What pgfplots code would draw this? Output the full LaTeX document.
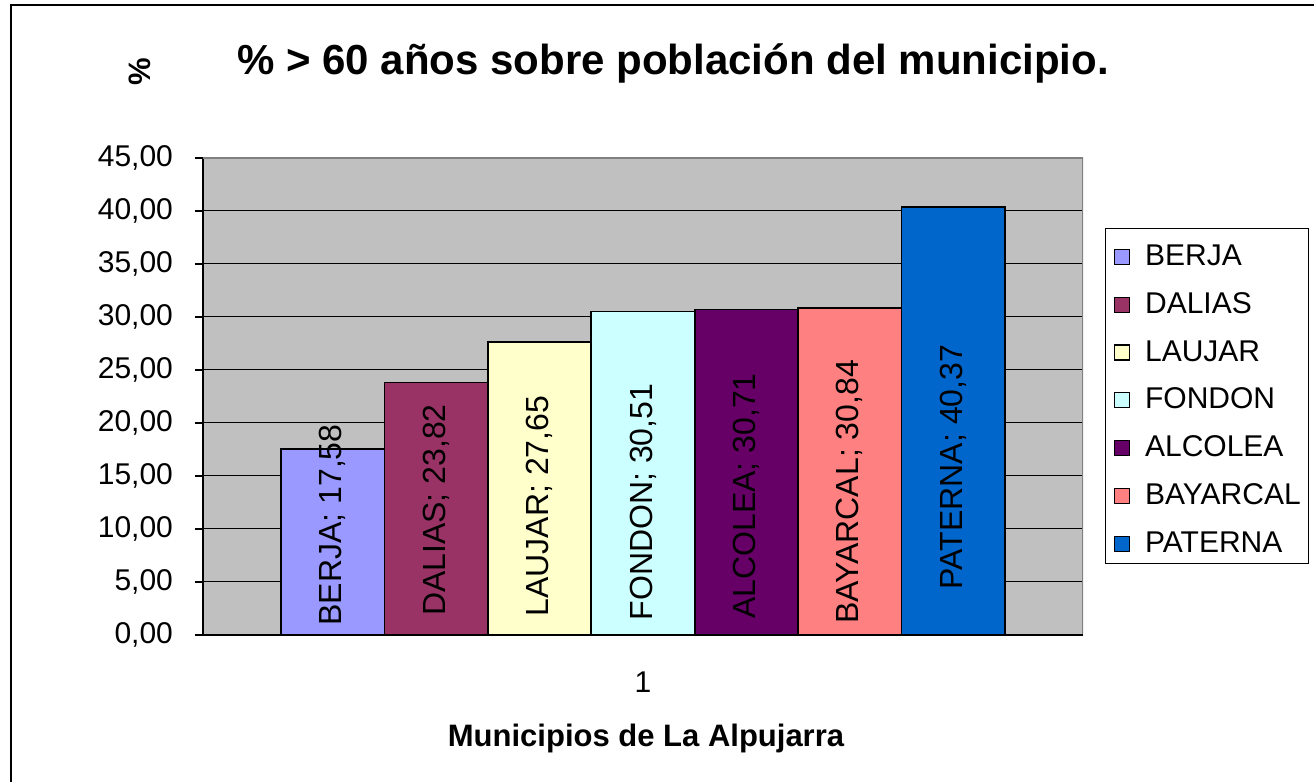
\documentclass[border=0pt]{standalone}
\usepackage{pgfplots}
\pgfplotsset{compat=1.18}
\usepackage{fontspec}
\setmainfont{Liberation Sans}
\definecolor{cBerja}{HTML}{9999FF}
\definecolor{cDalias}{HTML}{993366}
\definecolor{cLaujar}{HTML}{FFFFCC}
\definecolor{cFondon}{HTML}{CCFFFF}
\definecolor{cAlcolea}{HTML}{660066}
\definecolor{cBayarcal}{HTML}{FF8080}
\definecolor{cPaterna}{HTML}{0066CC}
\definecolor{plotgray}{HTML}{C0C0C0}
\definecolor{bordergray}{HTML}{808080}
\begin{document}
\begin{tikzpicture}
\path[use as bounding box] (0,0) rectangle (657pt,391pt);
\draw[line width=1pt] (5.5pt,-1pt) -- (5.5pt,388.5pt) -- (658pt,388.5pt);
\node[font=\fontsize{21}{24}\selectfont\bfseries] at (336.5pt,359.5pt) {\% > 60 años sobre población del municipio.};
\node[font=\fontsize{15.5}{18}\selectfont\bfseries, rotate=90] at (70pt,355pt) {\%};
\node[font=\fontsize{15.5}{18}\selectfont\bfseries] at (323pt,22pt) {Municipios de La Alpujarra};
\begin{axis}[
  at={(101.5pt,73.5pt)}, anchor=south west,
  scale only axis, width=440pt, height=238.5pt,
  xmin=-1.254, xmax=7.254, ymin=0, ymax=45,
  axis x line*=bottom, axis y line*=left,
  axis line style={line width=0.6pt, black},
  axis background/.style={fill=plotgray},
  ytick={0,5,...,45},
  ymajorgrids, grid style={black, line width=0.5pt},
  tick align=outside, major tick length=4pt,
  tick style={black, line width=0.6pt},
  xtick={3}, xticklabels={1},
  x tick style={draw=none},
  xticklabel style={font=\fontsize{15}{18}\selectfont, yshift=-11pt},
  yticklabel style={font=\fontsize{15}{18}\selectfont, xshift=-7.5pt, /pgf/number format/.cd, fixed, fixed zerofill, precision=2, use comma, assume math mode=true},
  every axis plot/.append style={ybar, bar width=1, bar shift=0pt, draw=black, line width=0.9pt},
  legend style={at={(1.025,0.853)}, anchor=north west, draw=black, line width=0.5pt,
    font=\fontsize{15}{18}\selectfont, row sep=10.9pt, inner xsep=4pt, inner ysep=5.4pt,
    nodes={inner sep=0pt, text height=13pt, text depth=0pt, anchor=base west}},
  legend cell align=left,
  legend image code/.code={\draw[#1,draw=black,line width=0.6pt] (0pt,0.5pt) rectangle (7.5pt,8pt); \path[draw=none,fill=none] (0pt,0pt) -- (15.5pt,0pt);},
]
\addplot[fill=cBerja] coordinates {(0,17.58)};
\addlegendentry{BERJA}
\addplot[fill=cDalias] coordinates {(1,23.82)};
\addlegendentry{DALIAS}
\addplot[fill=cLaujar] coordinates {(2,27.65)};
\addlegendentry{LAUJAR}
\addplot[fill=cFondon] coordinates {(3,30.51)};
\addlegendentry{FONDON}
\addplot[fill=cAlcolea] coordinates {(4,30.71)};
\addlegendentry{ALCOLEA}
\addplot[fill=cBayarcal] coordinates {(5,30.84)};
\addlegendentry{BAYARCAL}
\addplot[fill=cPaterna] coordinates {(6,40.37)};
\addlegendentry{PATERNA}
\draw[bordergray, line width=0.6pt] (rel axis cs:0,1) -- (rel axis cs:1,1) -- (rel axis cs:1,0);
\draw[black, line width=0.6pt] (rel axis cs:0,0) -- ++(0pt,-5pt);
\draw[black, line width=0.6pt] (rel axis cs:1,0) -- ++(0pt,-5pt);
\draw[black, line width=0.6pt] (rel axis cs:0,0) -- (rel axis cs:1,0);
\begin{scope}[every node/.style={rotate=90, font=\fontsize{16}{18}\selectfont}]
\node at (axis cs:0,10.38) {BERJA; 17,58};
\node at (axis cs:1,11.79) {DALIAS; 23,82};
\node at (axis cs:2,12.17) {LAUJAR; 27,65};
\node at (axis cs:3,12.55) {FONDON; 30,51};
\node at (axis cs:4,13.11) {ALCOLEA; 30,71};
\node at (axis cs:5,13.49) {BAYARCAL; 30,84};
\node at (axis cs:6,15.85) {PATERNA; 40,37};
\end{scope}
\end{axis}
\end{tikzpicture}
\end{document}
